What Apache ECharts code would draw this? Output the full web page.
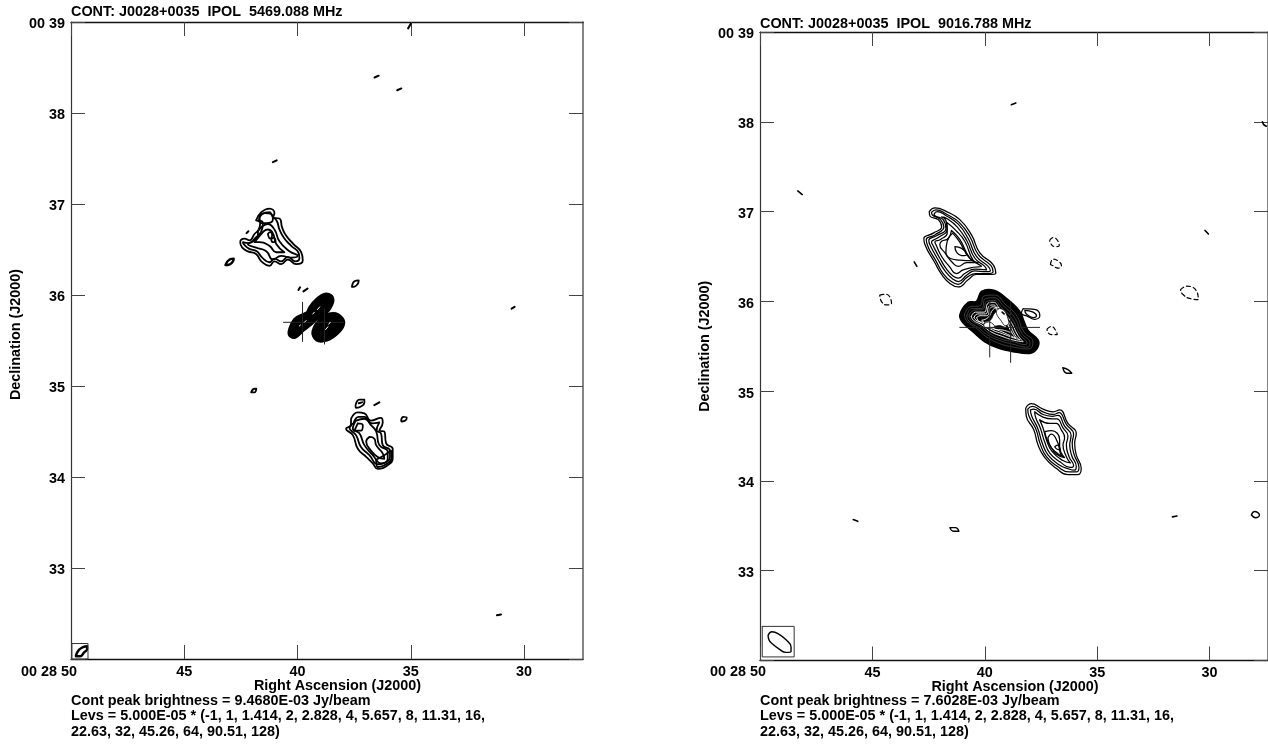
<!DOCTYPE html>
<html><head><meta charset="utf-8">
<script src="https://cdn.jsdelivr.net/npm/echarts@6/dist/echarts.min.js"></script>
<style>html,body{margin:0;padding:0;background:#fff;overflow:hidden}#c{width:1268px;height:744px}</style>
</head><body><div id="c"></div>
<script>
// Axis values: x = RA seconds of 00 28, y = Dec arcmin of 00
const raTicks=[30,35,40,45,50];
const decTicks=[32,33,34,35,36,37,38,39];
const raFirstLabel='00 28 50';
const titlesText=['CONT: J0028+0035  IPOL  5469.088 MHz','CONT: J0028+0035  IPOL  9016.788 MHz'];
const peakText=['Cont peak brightness = 9.4680E-03 Jy/beam','Cont peak brightness = 7.6028E-03 Jy/beam'];
const levText=['Levs = 5.000E-05 * (-1, 1, 1.414, 2, 2.828, 4, 5.657, 8, 11.31, 16,','22.63, 32, 45.26, 64, 90.51, 128)'];

// LEFT PANEL (5469 MHz): closed contours [RA, Dec]
const leftNorth=[
 [[41.83,36.82],[41.60,36.91],[41.24,36.95],[41.02,36.90],[41.09,36.85],[40.80,36.84],[40.68,36.74],[40.50,36.65],[40.18,36.56],[39.84,36.47],[39.77,36.38],[40.06,36.34],[40.43,36.39],[40.72,36.34],[41.02,36.37],[41.24,36.32],[41.60,36.37],[41.83,36.45],[42.19,36.48],[42.44,36.52],[42.53,36.58],[42.34,36.62],[42.12,36.60],[41.90,36.67],[41.71,36.72],[41.65,36.79]],
 [[41.71,36.82],[41.56,36.89],[41.24,36.91],[41.12,36.87],[40.91,36.81],[40.80,36.72],[40.58,36.62],[40.28,36.54],[39.95,36.46],[39.92,36.40],[40.09,36.37],[40.43,36.42],[40.72,36.37],[41.02,36.40],[41.24,36.36],[41.56,36.41],[41.80,36.48],[42.15,36.51],[42.38,36.56],[42.41,36.58],[42.15,36.57],[41.85,36.63],[41.60,36.70],[41.53,36.79]],
 [[41.75,36.70],[41.31,36.78],[41.02,36.72],[40.80,36.59],[40.36,36.48],[39.99,36.43],[40.28,36.41],[40.72,36.43],[41.09,36.39],[41.38,36.48],[41.83,36.52],[42.19,36.56],[41.97,36.59],[41.75,36.65]],
 [[41.6,36.67],[41.31,36.72],[41.09,36.68],[40.94,36.56],[40.58,36.47],[40.94,36.47],[41.24,36.54],[41.68,36.58],[41.9,36.58]],
 [[41.68,36.87],[41.46,36.90],[41.16,36.89],[41.09,36.83],[41.38,36.79],[41.6,36.79]],
 [[41.31,36.67],[41.21,36.69],[41.12,36.66],[41.21,36.62]],
 [[41.16,36.61],[41.06,36.63],[40.97,36.59],[41.09,36.58]]
];
const leftSouth=[
 [[37.64,34.64],[37.34,34.71],[37.05,34.70],[36.76,34.62],[36.32,34.65],[36.24,34.60],[36.39,34.51],[36.17,34.50],[36.09,34.37],[35.80,34.31],[35.80,34.20],[36.02,34.13],[36.46,34.09],[36.68,34.15],[36.97,34.22],[37.34,34.31],[37.56,34.46],[37.86,34.53],[37.64,34.57]],
 [[37.53,34.59],[37.30,34.66],[37.05,34.66],[36.71,34.59],[36.39,34.60],[36.51,34.51],[36.32,34.48],[36.24,34.35],[35.92,34.29],[35.92,34.22],[36.12,34.16],[36.46,34.14],[36.83,34.24],[37.20,34.33],[37.42,34.46],[37.71,34.54]],
 [[37.42,34.62],[37.05,34.64],[36.76,34.57],[36.53,34.50],[36.39,34.35],[36.02,34.28],[36.02,34.20],[36.31,34.15],[36.68,34.24],[37.05,34.35],[37.27,34.48],[37.56,34.53]],
 [[36.83,34.44],[36.61,34.42],[36.53,34.35],[36.24,34.26],[36.17,34.20],[36.46,34.22],[36.76,34.29],[36.97,34.39]],
 [[36.53,34.19],[36.17,34.24],[35.87,34.29],[35.84,34.22],[36.09,34.14],[36.46,34.11]],
 [[37.34,34.59],[37.12,34.57],[37.20,34.51],[37.49,34.51]],
 [[37.44,34.79],[37.27,34.85],[37.05,34.85],[37.05,34.82],[37.24,34.77],[37.42,34.76]],
 [[35.43,34.62],[35.33,34.66],[35.18,34.65],[35.24,34.62],[35.39,34.61]],
 [[37.60,36.09],[37.49,36.15],[37.30,36.16],[37.35,36.12],[37.52,36.09]],
 [[42.05,34.93],[41.9,34.97],[41.82,34.97],[41.9,34.93]]
];
// thick little closed marks: the clean-beam ellipse and a noise peak
const leftThick=[
 [[43.18,36.33],[43.0,36.39],[42.82,36.40],[42.85,36.37],[43.07,36.33]],
 [[49.78,32.04],[49.65,32.10],[49.47,32.13],[49.29,32.14],[49.29,32.11],[49.43,32.07],[49.60,32.03],[49.78,32.03]]
];
// short open strokes
const leftStrokes=[
 [[42.25,36.68],[42.17,36.70]],[[37.30,34.81],[37.15,34.82]],[[36.61,34.79],[36.39,34.82]],
 [[39.96,36.055],[39.89,36.085]],[[39.74,36.04],[39.56,36.07]],[[41.09,37.46],[40.92,37.48]],
 [[35.12,38.93],[35.0,38.98]],[[36.6,38.39],[36.42,38.41]],[[35.6,38.25],[35.42,38.27]],
 [[31.2,32.48],[31.02,32.49]],[[30.55,35.85],[30.42,35.87]]
];
const leftCross=[
 [[40.62,35.70],[37.97,35.70]],[[39.78,35.92],[39.78,35.49]],[[38.81,35.85],[38.81,35.46]]
];
const leftBlobs=[
 [[39.52,35.82],[39.30,35.91],[38.93,35.99],[38.63,36.00],[38.46,35.95],[38.56,35.87],[38.78,35.80],[39.15,35.74],[39.52,35.73]],
 [[40.33,35.62],[40.11,35.73],[39.74,35.78],[39.30,35.82],[39.15,35.78],[39.30,35.71],[39.74,35.62],[40.11,35.54],[40.33,35.56]],
 [[39.30,35.60],[38.93,35.74],[38.41,35.79],[38.05,35.74],[38.00,35.67],[38.27,35.58],[38.71,35.51],[39.15,35.51]]
];
const leftSpecks=[
 [[39.12,35.84],[39.02,35.87]],[[39.33,35.79],[39.26,35.81]],[[39.70,35.70],[39.62,35.72]],[[39.92,35.66],[39.87,35.67]],[[38.76,35.62],[38.66,35.65]],[[38.62,35.68],[38.56,35.70]]
];
const leftBeamBox=[[49.96,32.17],[49.25,32.17],[49.25,32.0],[49.96,32.0],[49.96,32.17]];

// RIGHT PANEL (9017 MHz)
const rightNorth=[
 [[42.47,37.0],[42.22,37.04],[41.70,37.0],[41.11,36.91],[40.59,36.74],[40.22,36.54],[39.63,36.41],[39.51,36.31],[39.85,36.30],[40.37,36.30],[40.74,36.24],[41.18,36.16],[41.55,36.20],[41.92,36.30],[42.22,36.43],[42.66,36.63],[42.71,36.70],[42.29,36.76],[41.92,36.83],[42.07,36.91],[42.44,36.95]],
 [[42.37,36.99],[42.17,37.02],[41.70,36.97],[41.14,36.88],[40.66,36.72],[40.29,36.52],[39.73,36.40],[39.63,36.33],[39.89,36.31],[40.40,36.31],[40.78,36.27],[41.18,36.19],[41.49,36.22],[41.85,36.31],[42.15,36.44],[42.56,36.63],[42.60,36.69],[42.22,36.74],[41.82,36.83],[41.97,36.91],[42.32,36.96]],
 [[42.26,36.97],[42.12,37.0],[41.70,36.95],[41.18,36.86],[40.74,36.70],[40.37,36.50],[39.85,36.39],[39.75,36.34],[39.95,36.33],[40.44,36.34],[40.81,36.29],[41.17,36.22],[41.43,36.25],[41.77,36.34],[42.07,36.46],[42.44,36.63],[42.49,36.68],[42.15,36.73],[41.73,36.81],[41.85,36.91],[42.20,36.95]],
 [[41.92,36.94],[41.67,36.92],[41.23,36.83],[40.81,36.68],[40.44,36.48],[40.0,36.39],[39.92,36.35],[40.44,36.36],[40.89,36.31],[41.17,36.26],[41.40,36.28],[41.70,36.36],[42.0,36.48],[42.32,36.63],[42.37,36.66],[42.07,36.71],[41.67,36.80],[41.73,36.90]],
 [[41.70,36.88],[41.29,36.79],[40.89,36.67],[40.52,36.46],[40.15,36.39],[40.52,36.38],[40.96,36.35],[41.26,36.31],[41.58,36.39],[41.92,36.50],[42.17,36.63],[42.22,36.66],[41.97,36.69],[41.67,36.76]],
 [[41.48,36.79],[41.11,36.69],[40.66,36.48],[40.29,36.43],[40.81,36.43],[41.18,36.39],[41.43,36.43],[41.77,36.54],[42.0,36.63],[41.92,36.67],[41.63,36.70]],
 [[41.43,36.76],[41.14,36.67],[40.74,36.50],[40.52,36.45],[41.11,36.46],[41.55,36.48],[41.73,36.55],[41.67,36.67]],
 [[41.33,36.61],[41.03,36.59],[40.81,36.52],[41.03,36.51],[41.26,36.55]]
];
// outermost contour of the central source (solid mass of packed contours inside)
const rightCentreOuter=[[41.11,35.85],[40.74,35.99],[40.37,36.0],[40.15,36.11],[39.56,36.12],[38.97,36.02],[38.45,35.89],[38.08,35.68],[37.63,35.57],[37.66,35.48],[38.0,35.42],[38.74,35.44],[39.41,35.48],[40.0,35.55],[40.52,35.66],[40.97,35.76]];
// gaps between the packed rings: faint outer streaks, clearer inner ones
const rightCentreStreaks=[
 [[40.91,35.85],[40.64,35.94],[40.22,35.95],[40.03,36.06],[39.57,36.07],[39.10,35.97],[38.61,35.85],[38.26,35.66],[37.86,35.55],[37.89,35.50],[38.08,35.47],[38.71,35.49],[39.34,35.53],[39.90,35.60],[40.37,35.70],[40.80,35.78]],
 [[40.80,35.84],[40.58,35.92],[40.15,35.92],[39.97,36.03],[39.59,36.04],[39.17,35.95],[38.70,35.83],[38.34,35.64],[37.99,35.54],[38.0,35.51],[38.14,35.49],[38.70,35.52],[39.29,35.56],[39.84,35.62],[40.30,35.71],[40.71,35.78]],
 [[40.70,35.84],[40.51,35.90],[40.09,35.91],[39.91,36.0],[39.60,36.01],[39.25,35.93],[38.79,35.81],[38.43,35.63],[38.12,35.53],[38.23,35.52],[38.70,35.55],[39.26,35.58],[39.78,35.64],[40.22,35.73],[40.61,35.79]]
];
const rightCentreGaps=[
 [[40.60,35.83],[40.42,35.88],[40.03,35.88],[39.85,35.98],[39.62,35.99],[39.32,35.91],[38.88,35.79],[38.52,35.62],[38.29,35.55],[38.74,35.57],[39.23,35.61],[39.72,35.66],[40.15,35.74],[40.51,35.79]],
 [[40.48,35.82],[40.33,35.86],[39.97,35.86],[39.80,35.95],[39.62,35.96],[39.38,35.89],[38.97,35.78],[38.61,35.61],[38.43,35.57],[38.79,35.60],[39.22,35.64],[39.66,35.68],[40.06,35.75],[40.39,35.79]],
 [[40.36,35.82],[40.21,35.84],[39.91,35.84],[39.74,35.93],[39.59,35.94],[39.41,35.87],[39.05,35.76],[38.71,35.62],[38.61,35.59],[38.88,35.62],[39.23,35.66],[39.62,35.70],[39.97,35.76],[40.27,35.78]],
 [[40.12,35.79],[39.85,35.82],[39.63,35.91],[39.44,35.93],[39.11,35.82],[38.89,35.70],[38.82,35.65],[39.19,35.68],[39.56,35.69],[39.93,35.73]]
];
// open, unfilled pockets inside the central source
const rightCentreWhite=[
 [[40.0,35.77],[39.75,35.79],[39.56,35.87],[39.41,35.88],[39.19,35.79],[39.04,35.71],[39.34,35.73],[39.63,35.72],[39.88,35.73]],
 [[39.48,35.89],[39.34,35.92],[39.11,35.89],[38.97,35.81],[38.94,35.75],[39.11,35.73],[39.29,35.79],[39.44,35.84]],
 [[40.03,35.75],[39.78,35.77],[39.56,35.72],[39.78,35.70],[40.0,35.71]]
];
const rightCentreLoop=[
 [[38.29,35.92],[37.78,35.91],[37.55,35.84],[37.78,35.80],[38.07,35.83],[38.37,35.87]],
 [[38.22,35.90],[37.85,35.88],[37.70,35.84],[37.85,35.82],[38.15,35.86]]
];
const rightSouth=[
 [[38.18,34.81],[37.93,34.86],[37.41,34.80],[36.96,34.77],[36.67,34.79],[36.30,34.64],[35.93,34.53],[36.0,34.42],[35.93,34.29],[35.71,34.14],[35.85,34.07],[36.30,34.07],[36.82,34.14],[37.33,34.26],[37.63,34.40],[37.82,34.57],[38.15,34.72]],
 [[38.09,34.80],[37.88,34.83],[37.41,34.77],[36.96,34.74],[36.70,34.76],[36.37,34.63],[36.05,34.52],[36.11,34.42],[36.02,34.29],[35.81,34.15],[35.93,34.10],[36.25,34.10],[36.76,34.16],[37.26,34.27],[37.53,34.41],[37.73,34.58],[38.03,34.72]],
 [[37.97,34.79],[37.82,34.80],[37.41,34.74],[37.0,34.72],[36.74,34.73],[36.45,34.61],[36.16,34.51],[36.22,34.40],[36.13,34.28],[35.93,34.16],[36.0,34.12],[36.22,34.13],[36.70,34.18],[37.19,34.29],[37.44,34.42],[37.65,34.59],[37.91,34.72]],
 [[37.78,34.77],[37.41,34.71],[37.0,34.69],[36.79,34.69],[36.52,34.59],[36.30,34.50],[36.37,34.40],[36.25,34.27],[36.05,34.17],[36.19,34.15],[36.64,34.21],[37.11,34.31],[37.33,34.43],[37.53,34.59],[37.73,34.70]],
 [[37.56,34.68],[37.11,34.64],[36.82,34.64],[36.6,34.57],[36.45,34.48],[36.52,34.40],[36.37,34.27],[36.19,34.20],[36.55,34.23],[37.01,34.33],[37.23,34.44],[37.41,34.59]],
 [[37.33,34.55],[37.04,34.56],[36.67,34.46],[36.67,34.38],[36.45,34.26],[36.82,34.30],[37.11,34.40],[37.26,34.48]],
 [[37.19,34.48],[37.04,34.52],[36.74,34.42],[36.64,34.31],[36.52,34.27],[36.89,34.33],[37.11,34.40]],
 [[36.89,34.38],[36.77,34.40],[36.64,34.35],[36.74,34.35]]
];
const rightSmall=[
 [[41.55,33.48],[41.3,33.48],[41.15,33.44],[41.4,33.44]],
 [[36.53,35.26],[36.3,35.24],[36.13,35.2],[36.35,35.2]],
 [[28.14,33.62],[28.0,33.66],[27.78,33.62],[27.95,33.59]],
 [[49.64,32.28],[49.47,32.32],[49.2,32.30],[48.84,32.23],[48.62,32.15],[48.62,32.10],[48.84,32.09],[49.16,32.13],[49.47,32.19],[49.6,32.23]]
];
const rightStrokes=[
 [[38.82,38.19],[38.62,38.21]],[[48.32,37.23],[48.12,37.19]],[[27.65,38.0],[27.6,37.97],[27.48,37.95]],
 [[43.14,36.44],[43.02,36.39]],[[30.2,36.79],[30.05,36.75]],[[45.85,33.57],[45.65,33.55]],[[31.65,33.6],[31.45,33.61]],
 [[39.23,35.88],[39.14,35.86]]
];
const rightDashed=[
 [[37.11,36.68],[36.96,36.71],[36.74,36.67],[36.69,36.62],[36.89,36.61],[37.08,36.65]],
 [[37.08,36.41],[36.96,36.47],[36.74,36.45],[36.59,36.40],[36.74,36.37],[36.99,36.40]],
 [[37.23,35.69],[37.04,35.72],[36.81,35.66],[36.78,35.63],[37.04,35.63],[37.18,35.65]],
 [[44.67,36.07],[44.4,36.08],[44.15,35.98],[44.35,35.96],[44.6,36.0]],
 [[31.29,36.13],[31.0,36.17],[30.55,36.1],[30.5,36.02],[30.85,36.03],[31.2,36.08]]
];
const rightCross=[
 [[41.11,35.71],[37.56,35.71]],[[39.78,36.0],[39.78,35.38]],[[38.85,36.0],[38.85,35.32]]
];
const rightBeamBox=[[49.90,32.38],[48.48,32.38],[48.48,32.04],[49.90,32.04],[49.90,32.38]];

const font='"Liberation Sans", Arial, sans-serif';
const fs=14.4;
const close=r=>r.concat([r[0]]);
function line(idx,pts,w,col,dash,smooth){
  return {type:'line',xAxisIndex:idx*2,yAxisIndex:idx*2,data:pts,symbol:'none',smooth:smooth||0,silent:true,animation:false,clip:false,z:3,
    lineStyle:{color:col||'#000',width:w,type:dash||'solid',join:'round',cap:'round'}};
}
function fillBlob(idx,pts,fill,lw,z,stroke){
  return {type:'custom',xAxisIndex:idx*2,yAxisIndex:idx*2,data:pts,silent:true,animation:false,z:z,
    renderItem:(p,api)=>p.dataIndex===0?{type:'polygon',shape:{points:pts.map(q=>api.coord(q)),smooth:0.35},style:{fill,stroke:stroke||'#000',lineWidth:lw}}:null};
}
const at=(s,z)=>{s.z=z;return s;};
const series=[];
[...leftNorth,...leftSouth].forEach(r=>series.push(line(0,close(r),1.8,'#000',null,0.5)));
leftThick.forEach(r=>series.push(line(0,close(r),2.4,'#000',null,0.5)));
leftStrokes.forEach(r=>series.push(line(0,r,2)));
leftCross.forEach(r=>series.push(line(0,r,1,'#222')));
series.push(line(0,leftBeamBox,1,'#333'));
leftBlobs.forEach(r=>series.push(fillBlob(0,r,'#000',4,3)));
leftSpecks.forEach(r=>series.push(at(line(0,r,1,'#fff'),4)));
series.push(fillBlob(1,rightCentreOuter,'#000',1.5,3));
rightCentreStreaks.forEach(r=>series.push(at(line(1,close(r),0.5,'#777',null,0.5),4)));
rightCentreGaps.forEach(r=>series.push(at(line(1,close(r),0.9,'#fff',null,0.5),4)));
rightCentreWhite.forEach(r=>series.push(fillBlob(1,r,'#fff',0.8,5)));
rightCross.forEach(r=>series.push(at(line(1,r,1,'#222'),6)));
rightCentreLoop.forEach(r=>series.push(line(1,close(r),1.25,'#000',null,0.5)));
[...rightNorth,...rightSouth].forEach(r=>series.push(line(1,close(r),1.25,'#000',null,0.5)));
rightSmall.forEach(r=>series.push(line(1,close(r),1.4,'#000',null,0.5)));
rightStrokes.forEach(r=>series.push(at(line(1,r,1.6),6)));
rightDashed.forEach(r=>series.push(line(1,close(r),1.2,'#000',[4,3],0.5)));
series.push(line(1,rightBeamBox,1,'#333'));

const grids=[{left:71,top:22,width:512,height:637},{left:760,top:32,width:508.5,height:628.5}];
const xMin=27.4,xMax=50,yMin=32,yMax=39;
const tick={show:true,inside:true,length:14,lineStyle:{color:'#444',width:1}};
const labelBase={color:'#000',fontFamily:font,fontWeight:'bold',fontSize:fs};
function xAxes(g,name){
  const ln={lineStyle:{color:'#111',width:1.3}};
  return [
   {gridIndex:g,type:'value',inverse:true,min:xMin,max:xMax,position:'bottom',axisLine:{show:true,onZero:false,...ln},
    axisTick:{...tick,customValues:raTicks},splitLine:{show:false},
    axisLabel:{customValues:raTicks.slice(0,4),margin:6,...labelBase,formatter:v=>String(v)},
    name,nameLocation:'middle',nameGap:20,nameMoveOverlap:false,nameTextStyle:{...labelBase,padding:[0,0,0,g===0?21:2]}},
   {gridIndex:g,type:'value',inverse:true,min:xMin,max:xMax,position:'top',axisLine:{show:true,onZero:false,...ln},
    axisTick:{...tick,customValues:raTicks},axisLabel:{show:false},splitLine:{show:false}}
  ];
}
function yAxes(g,name){
  return [
   {gridIndex:g,type:'value',min:yMin,max:yMax,interval:1,position:'left',axisLine:{show:true,onZero:false,lineStyle:{color:'#333',width:1.2}},
    axisTick:tick,splitLine:{show:false},
    axisLabel:{margin:6,...labelBase,formatter:v=>v===yMin?'':('{a|'+(v===yMax?'00 39':String(v))+'}'),rich:{a:{...labelBase,padding:[5,0,0,0]}}},
    name,nameLocation:'middle',nameGap:48,nameRotate:90,nameMoveOverlap:false,nameTextStyle:{...labelBase,padding:[0,0,0,g===0?12:0]}},
   {gridIndex:g,type:'value',min:yMin,max:yMax,interval:1,position:'right',axisLine:{show:true,onZero:false,lineStyle:{color:'#666',width:1.6}},
    axisTick:tick,axisLabel:{show:false},splitLine:{show:false}}
  ];
}
const txt=(t,left,top)=>({text:t,left,top,padding:0,textStyle:{...labelBase,lineHeight:15}});
const option={
  backgroundColor:'#fff',animation:false,
  grid:grids,
  xAxis:[...xAxes(0,'Right Ascension (J2000)'),...xAxes(1,'Right Ascension (J2000)')],
  yAxis:[...yAxes(0,'Declination (J2000)'),...yAxes(1,'Declination (J2000)')],
  title:[
    txt(titlesText[0],71,5),txt(titlesText[1],760,17),
    txt(peakText[0],71,694),txt(peakText[1],760,694),
    txt(levText[0],71,709),txt(levText[0],760,709),
    txt(levText[1],71,725),txt(levText[1],760,725),
    txt(raFirstLabel,21,665),txt(raFirstLabel,710,665)
  ],
  series
};
echarts.init(document.getElementById('c'),null,{renderer:'canvas'}).setOption(option);
</script></body></html>
